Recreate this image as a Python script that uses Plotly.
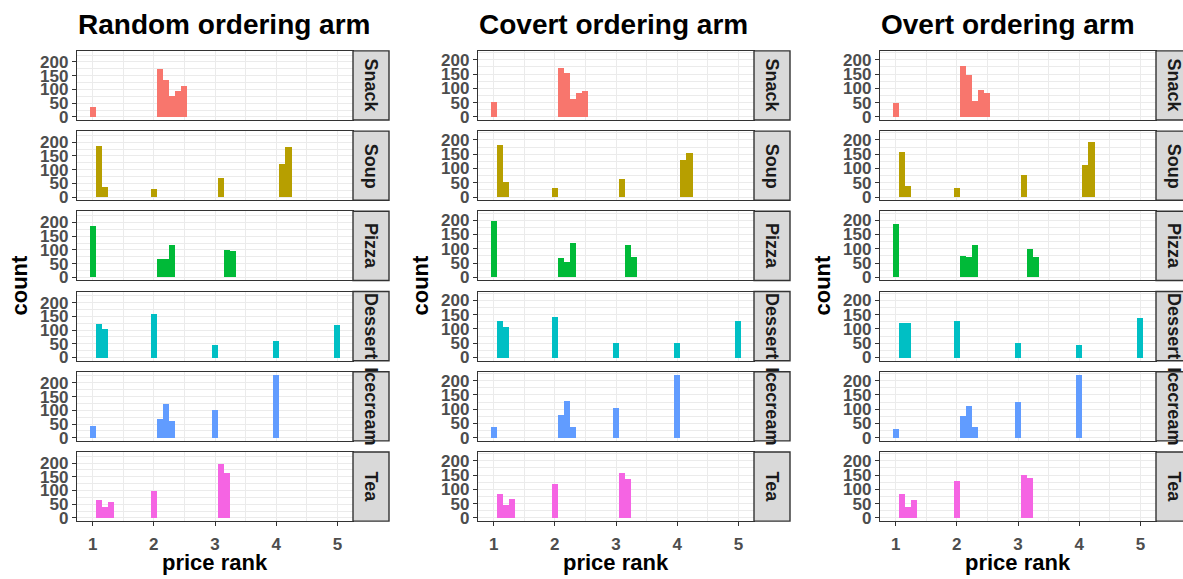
import plotly.graph_objects as go

# ---------------- data ----------------
arms = ["Random ordering arm", "Covert ordering arm", "Overt ordering arm"]
categories = ["Snack", "Soup", "Pizza", "Dessert", "Icecream", "Tea"]
cat_colors = ["#F8766D", "#B79F00", "#00BA38", "#00BFC4", "#619CFF", "#F564E3"]

# bin centres (price rank) per category
snack_rank = [1.0, 2.1, 2.2, 2.3, 2.4, 2.5]
soup_rank = [1.1, 1.2, 2.0, 3.1, 4.1, 4.2]
pizza_rank = [1.0, 2.1, 2.2, 2.3, 3.2, 3.3]
dessert_rank = [1.1, 1.2, 2.0, 3.0, 4.0, 5.0]
icecream_rank = [1.0, 2.1, 2.2, 2.3, 3.0, 4.0]
tea_rank = [1.1, 1.2, 1.3, 2.0, 3.1, 3.2]

# counts, random arm
random_snack = [38, 176, 136, 75, 93, 114]
random_soup = [187, 38, 31, 71, 122, 183]
random_pizza = [187, 67, 64, 118, 100, 93]
random_dessert = [124, 107, 160, 49, 63, 121]
random_icecream = [42, 71, 125, 63, 103, 229]
random_tea = [67, 40, 60, 99, 196, 164]

# counts, covert arm
covert_snack = [51, 171, 154, 64, 85, 92]
covert_soup = [182, 54, 30, 64, 130, 154]
covert_pizza = [195, 68, 51, 120, 113, 71]
covert_dessert = [128, 109, 144, 54, 54, 130]
covert_icecream = [40, 82, 130, 40, 106, 220]
covert_tea = [85, 47, 68, 120, 157, 137]

# counts, overt arm
overt_snack = [50, 177, 146, 57, 95, 85]
overt_soup = [157, 40, 30, 78, 112, 194]
overt_pizza = [184, 74, 71, 112, 98, 71]
overt_dessert = [123, 123, 130, 54, 44, 140]
overt_icecream = [33, 78, 113, 40, 126, 220]
overt_tea = [85, 37, 64, 130, 150, 140]

x_ticks = [1, 2, 3, 4, 5]
y_ticks = [0, 50, 100, 150, 200]

ranks = [snack_rank, soup_rank, pizza_rank, dessert_rank, icecream_rank, tea_rank]
counts = [
    [random_snack, random_soup, random_pizza, random_dessert, random_icecream, random_tea],
    [covert_snack, covert_soup, covert_pizza, covert_dessert, covert_icecream, covert_tea],
    [overt_snack, overt_soup, overt_pizza, overt_dessert, overt_icecream, overt_tea],
]

# ---------------- layout geometry (pixels) ----------------
W, H = 1183, 579
panel_left = [77, 478, 880]
panel_w = 276
strip_w = 36
row_top0 = 51.5
row_pitch = 81.2
panel_h = 70
bin_w = 0.1

FONT = "Liberation Sans"
GRID = "#EBEBEB"
BORDER = "#333333"

fig = go.Figure()
layout = dict(
    width=W, height=H,
    margin=dict(l=0, r=0, t=0, b=0),
    paper_bgcolor="white", plot_bgcolor="white",
    showlegend=False,
    bargap=0,
    font=dict(family=FONT),
)
shapes = []
annotations = []

def px_x(v):
    return v / W

def px_y(v):
    return 1 - v / H

for c in range(3):
    ymax = max(max(v) for v in counts[c])
    yrange = [-0.05 * ymax, 1.05 * ymax]
    x0 = panel_left[c]
    x1 = x0 + panel_w
    for r in range(6):
        idx = c * 6 + r + 1
        sfx = "" if idx == 1 else str(idx)
        top = row_top0 + r * row_pitch
        bot = top + panel_h
        bottom_row = r == 5
        fig.add_trace(go.Bar(
            x=ranks[r], y=counts[c][r], width=bin_w,
            marker=dict(color=cat_colors[r], line=dict(width=0)),
            xaxis="x" + sfx, yaxis="y" + sfx,
            hoverinfo="x+y",
        ))
        layout["xaxis" + sfx] = dict(
            domain=[px_x(x0), px_x(x1)], anchor="y" + sfx,
            range=[0.745, 5.255], tickvals=x_ticks,
            showticklabels=bottom_row,
            ticks="outside" if bottom_row else "", ticklen=4, tickwidth=1.3, tickcolor=BORDER,
            ticklabelstandoff=3,
            tickfont=dict(family=FONT, size=17, color="#4D4D4D", weight="bold"),
            showgrid=True, gridcolor=GRID, gridwidth=1.2,
            minor=dict(tickvals=[1.5, 2.5, 3.5, 4.5], showgrid=True, gridcolor=GRID, gridwidth=0.7),
            showline=True, mirror=True, linecolor=BORDER, linewidth=1.4,
            zeroline=False, fixedrange=True,
        )
        layout["yaxis" + sfx] = dict(
            domain=[px_y(bot), px_y(top)], anchor="x" + sfx,
            range=yrange, tickvals=y_ticks,
            ticks="outside", ticklen=4, tickwidth=1.3, tickcolor=BORDER,
            tickfont=dict(family=FONT, size=17, color="#4D4D4D", weight="bold"),
            showgrid=True, gridcolor=GRID, gridwidth=1.2,
            minor=dict(tickvals=[25, 75, 125, 175, 225], showgrid=True, gridcolor=GRID, gridwidth=0.7),
            showline=True, mirror=True, linecolor=BORDER, linewidth=1.4,
            zeroline=False, fixedrange=True,
        )
        # strip
        shapes.append(dict(
            type="rect", xref="paper", yref="paper",
            x0=px_x(x1), x1=px_x(x1 + strip_w), y0=px_y(bot), y1=px_y(top),
            fillcolor="#D9D9D9", line=dict(color=BORDER, width=1.4), layer="above",
        ))
        annotations.append(dict(
            xref="paper", yref="paper",
            x=px_x(x1 + strip_w / 2), y=px_y((top + bot) / 2),
            text=categories[r], textangle=90, showarrow=False,
            xanchor="center", yanchor="middle",
            font=dict(family=FONT, size=18, color="#1A1A1A", weight="bold"),
        ))
    # titles
    annotations.append(dict(
        xref="paper", yref="paper", x=px_x(x0 - 1), y=px_y(25),
        text=arms[c], showarrow=False, xanchor="left", yanchor="middle",
        font=dict(family=FONT, size=28, color="black", weight="bold"),
    ))
    # axis titles
    annotations.append(dict(
        xref="paper", yref="paper", x=px_x(x0 - 57), y=px_y(289),
        text="count", textangle=-90, showarrow=False,
        xanchor="center", yanchor="middle",
        font=dict(family=FONT, size=22, color="black", weight="bold"),
    ))
    annotations.append(dict(
        xref="paper", yref="paper", x=px_x(x0 + panel_w / 2), y=px_y(569),
        text="price rank", showarrow=False,
        xanchor="center", yanchor="middle",
        font=dict(family=FONT, size=22, color="black", weight="bold"),
    ))

layout["shapes"] = shapes
layout["annotations"] = annotations
fig.update_layout(**layout)
fig.write_html(
    "out.html",
    config={"displayModeBar": False},
    post_script="document.body.style.margin='0px';document.body.style.overflow='hidden';",
)
